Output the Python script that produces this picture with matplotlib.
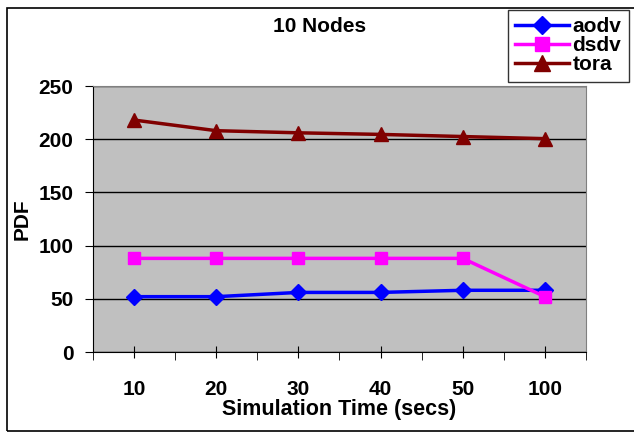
import matplotlib
matplotlib.use("Agg")
import matplotlib.pyplot as plt
from matplotlib.patches import Rectangle

plt.rcParams["font.family"] = ["Liberation Sans", "DejaVu Sans"]
plt.rcParams["font.weight"] = "bold"

# data
sim_time = ["10", "20", "30", "40", "50", "100"]
aodv = [52, 52, 56, 56, 58, 58]
dsdv = [88, 88, 88, 88, 88, 52]
tora = [218, 208, 206, 204.5, 202.5, 200.5]

fig = plt.figure(figsize=(6.34, 4.32), dpi=100)
ax = fig.add_axes([93 / 634, 80 / 432, 493 / 634, 266 / 432])
ax.set_facecolor("#C0C0C0")

x = list(range(len(sim_time)))
ax.plot(x, aodv, color="#0000FF", lw=2.5, marker="D", ms=8, label="aodv")
ax.plot(x, dsdv, color="#FF00FF", lw=2.5, marker="s", ms=9, label="dsdv")
ax.plot(x, tora, color="#800000", lw=2.5, marker="^", ms=10, label="tora")

ax.set_xlim(-0.5, len(sim_time) - 0.5)
ax.set_ylim(0, 250)
ax.set_yticks([0, 50, 100, 150, 200, 250])
ax.yaxis.grid(True, color="black", lw=1)
ax.set_axisbelow(True)

ax.set_xticks(x)
ax.set_xticklabels(sim_time)
ax.set_xticks([i - 0.5 for i in range(len(sim_time) + 1)], minor=True)
ax.tick_params(axis="x", which="major", direction="inout", length=8, pad=16,
               labelsize=15, color="black")
ax.tick_params(axis="x", which="minor", direction="out", length=6, color="black")
ax.tick_params(axis="y", direction="out", length=6, pad=8, labelsize=15)

for s in ["top", "right"]:
    ax.spines[s].set_color("#808080")
for s in ["left", "bottom"]:
    ax.spines[s].set_color("black")

ax.set_xlabel("Simulation Time (secs)", fontsize=15.5, fontweight="bold", labelpad=0)
ax.set_ylabel("PDF", fontsize=15, fontweight="bold", labelpad=5)
fig.text(320 / 634, 1 - 27 / 432, "10 Nodes", ha="center", va="center",
         fontsize=15, fontweight="bold")

leg = fig.legend(loc="upper left", bbox_to_anchor=(508 / 634, 1 - 10 / 432),
                 fontsize=15, frameon=True, fancybox=False, handlelength=2.6,
                 handletextpad=0.15, labelspacing=0.0, borderpad=0.35,
                 borderaxespad=0, markerscale=1.15)
leg.get_frame().set_edgecolor("black")
leg.get_frame().set_linewidth(1)
for t in leg.get_texts():
    t.set_fontweight("bold")

# outer chart border
fig.patches.append(Rectangle((7 / 634, 1 / 432), 1, 423 / 432, transform=fig.transFigure,
                             fill=False, ec="black", lw=1.2))

fig.savefig("out.png", dpi=100)
